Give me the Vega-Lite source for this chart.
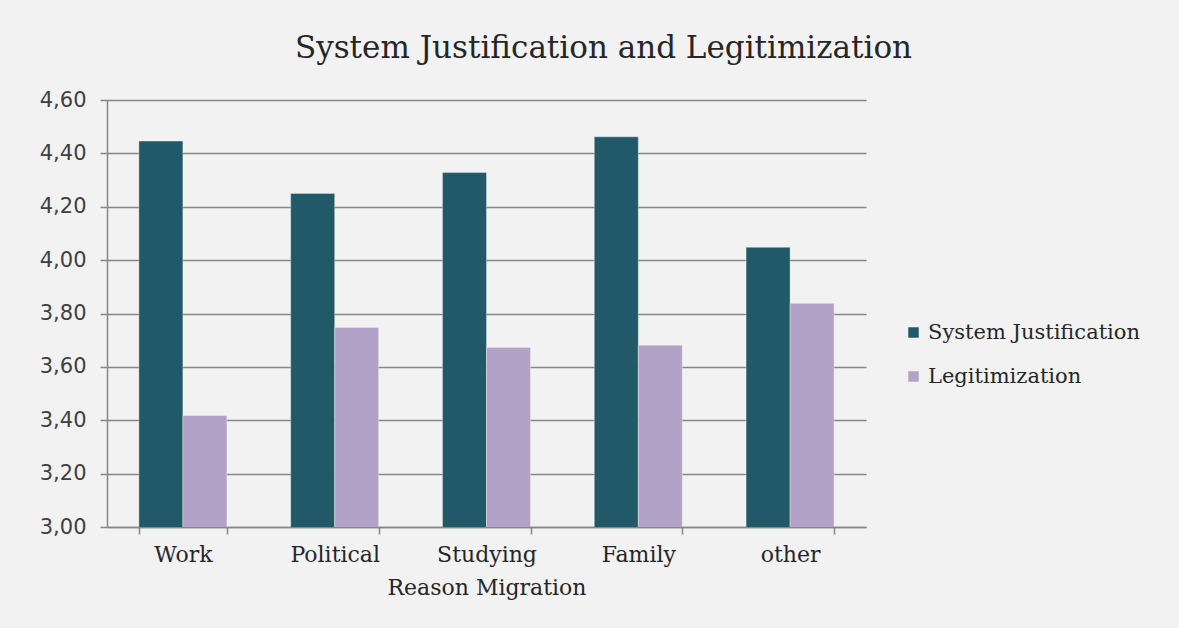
{
  "$schema": "https://vega.github.io/schema/vega-lite/v6.json",
  "autosize": "none",
  "width": 759,
  "height": 427,
  "padding": {"left": 107, "top": 100, "right": 313, "bottom": 101},
  "background": "#f2f2f2",
  "title": {
    "text": "System Justification and Legitimization",
    "font": "DejaVu Serif",
    "fontSize": 31,
    "fontWeight": "normal",
    "color": "#262626",
    "anchor": "middle",
    "dx": 117,
    "offset": 24
  },
  "data": {
    "values": [
      {"reason": "Work", "measure": "System Justification", "value": 4.446},
      {"reason": "Work", "measure": "Legitimization", "value": 3.418},
      {"reason": "Political", "measure": "System Justification", "value": 4.25},
      {"reason": "Political", "measure": "Legitimization", "value": 3.748},
      {"reason": "Studying", "measure": "System Justification", "value": 4.328},
      {"reason": "Studying", "measure": "Legitimization", "value": 3.673},
      {"reason": "Family", "measure": "System Justification", "value": 4.462},
      {"reason": "Family", "measure": "Legitimization", "value": 3.681},
      {"reason": "other", "measure": "System Justification", "value": 4.048},
      {"reason": "other", "measure": "Legitimization", "value": 3.838}
    ]
  },
  "mark": {"type": "bar", "clip": true, "stroke": "#ffffff", "strokeOpacity": 0.35, "strokeWidth": 1},
  "encoding": {
    "x": {
      "field": "reason",
      "type": "nominal",
      "sort": ["Work", "Political", "Studying", "Family", "other"],
      "scale": {"paddingInner": 0.42, "paddingOuter": 0.21},
      "axis": {
        "title": "Reason Migration",
        "titleFont": "DejaVu Serif",
        "titleFontSize": 22,
        "titleFontWeight": "normal",
        "titleColor": "#262626",
        "titlePadding": 12,
        "labelFont": "DejaVu Serif",
        "labelFontSize": 22,
        "labelColor": "#262626",
        "labelAngle": 0,
        "labelPadding": 10,
        "tickBand": "extent",
        "tickSize": 7,
        "tickColor": "#868686",
        "domainColor": "#868686",
        "domainWidth": 1.5,
        "tickWidth": 1.5,
        "grid": false
      }
    },
    "xOffset": {
      "field": "measure",
      "type": "nominal",
      "sort": ["System Justification", "Legitimization"],
      "scale": {"paddingInner": 0, "paddingOuter": 0}
    },
    "y": {
      "field": "value",
      "type": "quantitative",
      "scale": {"domain": [3, 4.6], "zero": false, "nice": false},
      "axis": {
        "title": null,
        "values": [3, 3.2, 3.4, 3.6, 3.8, 4, 4.2, 4.4, 4.6],
        "labelExpr": "replace(format(datum.value, '.2f'), '.', ',')",
        "labelFont": "DejaVu Sans",
        "labelFontSize": 21,
        "labelColor": "#404040",
        "labelPadding": 14,
        "tickSize": 7,
        "tickColor": "#868686",
        "tickWidth": 1.5,
        "domainColor": "#868686",
        "domainWidth": 1.5,
        "grid": true,
        "gridColor": "#868686",
        "gridWidth": 1.5
      }
    },
    "color": {
      "field": "measure",
      "type": "nominal",
      "sort": ["System Justification", "Legitimization"],
      "scale": {"domain": ["System Justification", "Legitimization"], "range": ["#215968", "#b3a2c7"]},
      "legend": {
        "title": null,
        "orient": "none",
        "legendX": 796,
        "legendY": 222,
        "symbolType": "square",
        "symbolSize": 110,
        "symbolStrokeWidth": 0,
        "labelFont": "DejaVu Serif",
        "labelFontSize": 21,
        "labelLimit": 400,
        "labelColor": "#262626",
        "labelOffset": 4,
        "rowPadding": 22
      }
    }
  },
  "config": {"view": {"stroke": null}}
}
